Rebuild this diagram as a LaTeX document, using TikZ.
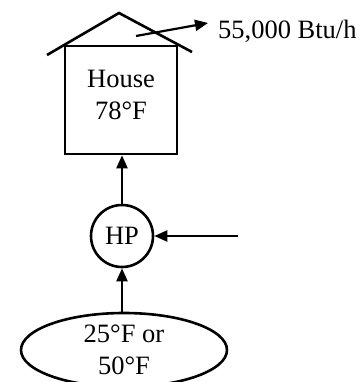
\documentclass[tikz,border=0pt]{standalone}
\usepackage{fontspec}
\setmainfont{Liberation Serif}
\usetikzlibrary{arrows.meta,shapes.geometric}
\tikzset{wall/.style={draw,line width=2.6pt,minimum width=112pt,minimum height=108pt,inner sep=0pt},
  pump/.style={circle,draw,line width=2.6pt,minimum size=62pt,inner sep=0pt,font=\fontsize{26.5}{32}\selectfont},
  source/.style={ellipse,draw,line width=2.6pt,minimum width=206pt,minimum height=74pt,inner sep=0pt},
  arrow/.style={-{Triangle[length=13pt,width=11pt]},line width=2.2pt},
  lbl/.style={align=center,inner sep=0pt,font=\fontsize{26.5}{32}\selectfont}}

\begin{document}
\begin{tikzpicture}[x=1pt,y=-1pt]
  \path[use as bounding box] (0,0) rectangle (360,382);
  % house and roof
  \node[wall] (house) at (121,100) {};
  \node[lbl] (housetxt) at (121,95) {House\\78°F};
  \coordinate (eaveL) at (47,55);
  \coordinate (peak) at (119,13);
  \coordinate (eaveR) at (192,52);
  \draw[line width=2.6pt] (eaveL) -- (peak) -- (eaveR);
  % heat loss
  \coordinate (lossA) at (136,36);
  \node[lbl,anchor=base west] (loss) at (218,39) {55,000 Btu/h};
  \draw[arrow] (lossA) -- (208,23);
  % heat pump
  \node[pump] (hp) at (122,236) {HP};
  \coordinate (workin) at (238,236);
  \draw[arrow] (workin) -- (hp.east);
  \draw[arrow] (hp.north) -- (hp.north |- house.south);
  % outside air
  \node[source] (air) at (124,350) {};
  \node[lbl] (airtxt) at (124,350) {25°F or\\50°F};
  \draw[arrow] (hp.south |- air.north) -- (hp.south);
\end{tikzpicture}
\end{document}
